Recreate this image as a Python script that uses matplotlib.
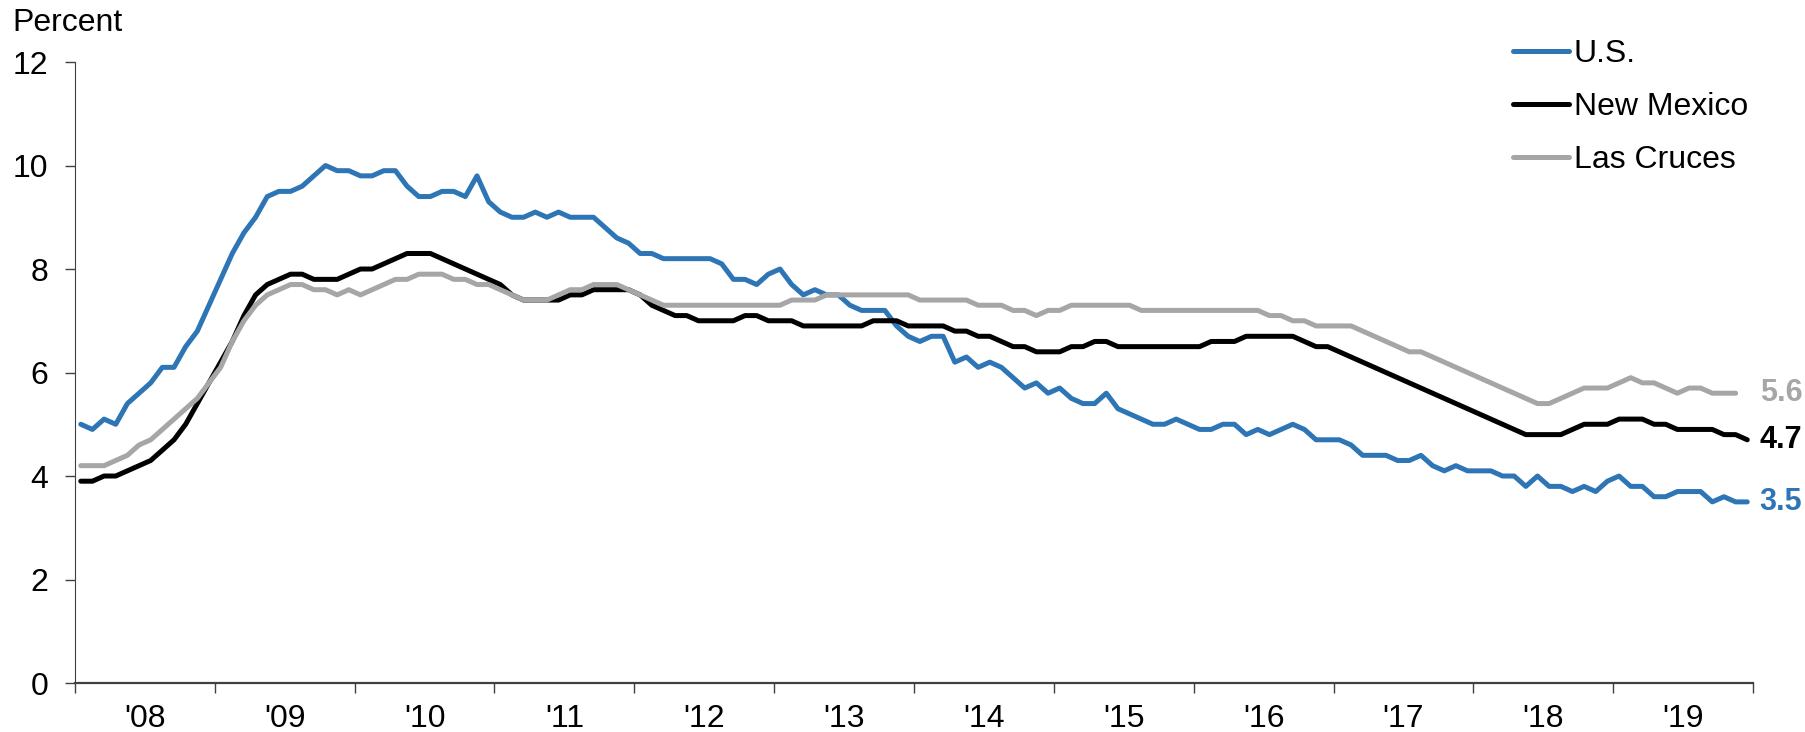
import numpy as np
import matplotlib

matplotlib.use("Agg")

import matplotlib.pyplot as plt

plt.rcParams["font.family"] = ["Liberation Sans", "DejaVu Sans"]

years = ["'08", "'09", "'10", "'11", "'12", "'13", "'14", "'15", "'16", "'17", "'18", "'19"]

# monthly unemployment rate, Jan 2008 - Dec 2019
us = [
    5.0, 4.9, 5.1, 5.0, 5.4, 5.6, 5.8, 6.1, 6.1, 6.5, 6.8, 7.3,
    7.8, 8.3, 8.7, 9.0, 9.4, 9.5, 9.5, 9.6, 9.8, 10.0, 9.9, 9.9,
    9.8, 9.8, 9.9, 9.9, 9.6, 9.4, 9.4, 9.5, 9.5, 9.4, 9.8, 9.3,
    9.1, 9.0, 9.0, 9.1, 9.0, 9.1, 9.0, 9.0, 9.0, 8.8, 8.6, 8.5,
    8.3, 8.3, 8.2, 8.2, 8.2, 8.2, 8.2, 8.1, 7.8, 7.8, 7.7, 7.9,
    8.0, 7.7, 7.5, 7.6, 7.5, 7.5, 7.3, 7.2, 7.2, 7.2, 6.9, 6.7,
    6.6, 6.7, 6.7, 6.2, 6.3, 6.1, 6.2, 6.1, 5.9, 5.7, 5.8, 5.6,
    5.7, 5.5, 5.4, 5.4, 5.6, 5.3, 5.2, 5.1, 5.0, 5.0, 5.1, 5.0,
    4.9, 4.9, 5.0, 5.0, 4.8, 4.9, 4.8, 4.9, 5.0, 4.9, 4.7, 4.7,
    4.7, 4.6, 4.4, 4.4, 4.4, 4.3, 4.3, 4.4, 4.2, 4.1, 4.2, 4.1,
    4.1, 4.1, 4.0, 4.0, 3.8, 4.0, 3.8, 3.8, 3.7, 3.8, 3.7, 3.9,
    4.0, 3.8, 3.8, 3.6, 3.6, 3.7, 3.7, 3.7, 3.5, 3.6, 3.5, 3.5,
]

new_mexico = [
    3.9, 3.9, 4.0, 4.0, 4.1, 4.2, 4.3, 4.5, 4.7, 5.0, 5.4, 5.8,
    6.2, 6.6, 7.1, 7.5, 7.7, 7.8, 7.9, 7.9, 7.8, 7.8, 7.8, 7.9,
    8.0, 8.0, 8.1, 8.2, 8.3, 8.3, 8.3, 8.2, 8.1, 8.0, 7.9, 7.8,
    7.7, 7.5, 7.4, 7.4, 7.4, 7.4, 7.5, 7.5, 7.6, 7.6, 7.6, 7.6,
    7.5, 7.3, 7.2, 7.1, 7.1, 7.0, 7.0, 7.0, 7.0, 7.1, 7.1, 7.0,
    7.0, 7.0, 6.9, 6.9, 6.9, 6.9, 6.9, 6.9, 7.0, 7.0, 7.0, 6.9,
    6.9, 6.9, 6.9, 6.8, 6.8, 6.7, 6.7, 6.6, 6.5, 6.5, 6.4, 6.4,
    6.4, 6.5, 6.5, 6.6, 6.6, 6.5, 6.5, 6.5, 6.5, 6.5, 6.5, 6.5,
    6.5, 6.6, 6.6, 6.6, 6.7, 6.7, 6.7, 6.7, 6.7, 6.6, 6.5, 6.5,
    6.4, 6.3, 6.2, 6.1, 6.0, 5.9, 5.8, 5.7, 5.6, 5.5, 5.4, 5.3,
    5.2, 5.1, 5.0, 4.9, 4.8, 4.8, 4.8, 4.8, 4.9, 5.0, 5.0, 5.0,
    5.1, 5.1, 5.1, 5.0, 5.0, 4.9, 4.9, 4.9, 4.9, 4.8, 4.8, 4.7,
]

# Las Cruces runs through Nov 2019
las_cruces = [
    4.2, 4.2, 4.2, 4.3, 4.4, 4.6, 4.7, 4.9, 5.1, 5.3, 5.5, 5.8,
    6.1, 6.6, 7.0, 7.3, 7.5, 7.6, 7.7, 7.7, 7.6, 7.6, 7.5, 7.6,
    7.5, 7.6, 7.7, 7.8, 7.8, 7.9, 7.9, 7.9, 7.8, 7.8, 7.7, 7.7,
    7.6, 7.5, 7.4, 7.4, 7.4, 7.5, 7.6, 7.6, 7.7, 7.7, 7.7, 7.6,
    7.5, 7.4, 7.3, 7.3, 7.3, 7.3, 7.3, 7.3, 7.3, 7.3, 7.3, 7.3,
    7.3, 7.4, 7.4, 7.4, 7.5, 7.5, 7.5, 7.5, 7.5, 7.5, 7.5, 7.5,
    7.4, 7.4, 7.4, 7.4, 7.4, 7.3, 7.3, 7.3, 7.2, 7.2, 7.1, 7.2,
    7.2, 7.3, 7.3, 7.3, 7.3, 7.3, 7.3, 7.2, 7.2, 7.2, 7.2, 7.2,
    7.2, 7.2, 7.2, 7.2, 7.2, 7.2, 7.1, 7.1, 7.0, 7.0, 6.9, 6.9,
    6.9, 6.9, 6.8, 6.7, 6.6, 6.5, 6.4, 6.4, 6.3, 6.2, 6.1, 6.0,
    5.9, 5.8, 5.7, 5.6, 5.5, 5.4, 5.4, 5.5, 5.6, 5.7, 5.7, 5.7,
    5.8, 5.9, 5.8, 5.8, 5.7, 5.6, 5.7, 5.7, 5.6, 5.6, 5.6,
]

BLUE = "#2E75B6"
GRAY = "#A6A6A6"
BLACK = "#000000"

fig = plt.figure(figsize=(18.06, 7.32), dpi=100)
ax = fig.add_axes([0.0415, 0.0669, 0.9292, 0.8484])

line_kw = dict(lw=3.6, solid_capstyle="round", solid_joinstyle="round")
ax.plot(np.arange(len(us)), us, color=BLUE, label="U.S.", zorder=3, **line_kw)
ax.plot(np.arange(len(new_mexico)), new_mexico, color=BLACK, label="New Mexico", zorder=4, **line_kw)
ax.plot(np.arange(len(las_cruces)), las_cruces, color=GRAY, label="Las Cruces", zorder=5, **line_kw)

# end-of-series labels
last_x = len(us) - 1
for vals, col in [(las_cruces, GRAY), (new_mexico, BLACK), (us, BLUE)]:
    ax.annotate(f"{vals[-1]:.1f}", xy=(last_x, vals[-1]), xytext=(9, 0),
                textcoords="offset points", va="center", ha="left",
                fontsize=22, fontweight="bold", color=col, annotation_clip=False)

ax.set_xlim(-0.5, len(us) - 0.5)
ax.set_ylim(0, 12)
ax.set_yticks(np.arange(0, 13, 2))

ax.set_xticks(np.arange(-0.5, len(us), 12))
ax.set_xticks(np.arange(5.5, len(us), 12), minor=True)
ax.set_xticklabels(years, minor=True)
ax.tick_params(axis="x", which="major", direction="out", length=7.5, width=1,
               labelbottom=False, color="#404040")
ax.tick_params(axis="x", which="minor", length=0, pad=15, labelsize=23)
ax.tick_params(axis="y", direction="out", length=7, width=1, pad=12,
               labelsize=23, color="#404040")

ax.spines["top"].set_visible(False)
ax.spines["right"].set_visible(False)
ax.spines["left"].set_color("#404040")
ax.spines["bottom"].set_color("#404040")
ax.spines["bottom"].set_linewidth(1.6)

fig.text(12 / 1806, 1 - 23 / 732, "Percent", ha="left", va="center", fontsize=23)

ax.legend(loc="upper right", bbox_to_anchor=(1761 / 1806, 1 - 26 / 732),
          bbox_transform=fig.transFigure, frameon=False, fontsize=23,
          handlelength=1.75, handletextpad=0.16, labelspacing=0.72, borderaxespad=0)

fig.savefig("out.png", dpi=100)
